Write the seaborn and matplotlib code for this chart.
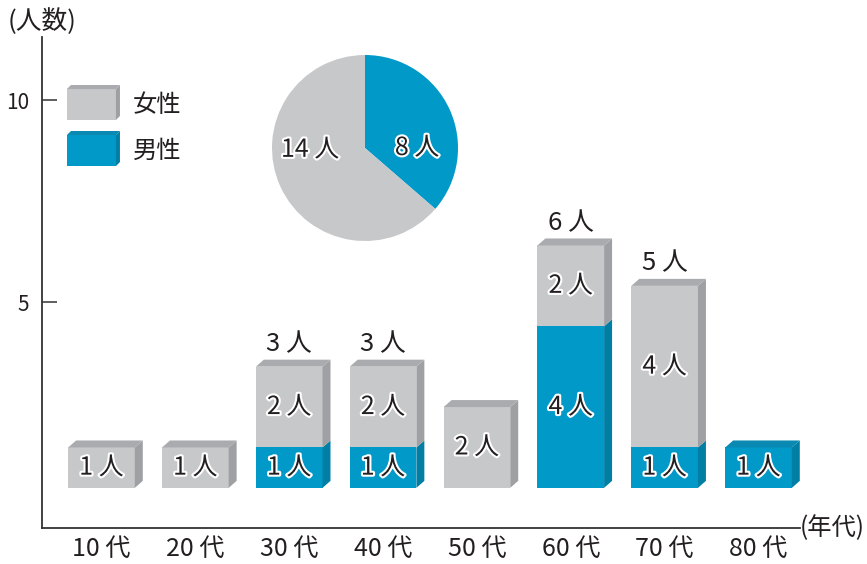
import matplotlib
matplotlib.use('Agg')
import matplotlib.pyplot as plt
import matplotlib.patheffects as pe
from matplotlib.patches import Polygon
import seaborn as sns

# data
ages = ['10 代', '20 代', '30 代', '40 代', '50 代', '60 代', '70 代', '80 代']
female = [1, 1, 2, 2, 2, 2, 4, 0]
male = [0, 0, 1, 1, 0, 4, 1, 1]
legend_names = ['女性', '男性']
unit = '人'

sns.set_theme(style='white')
plt.rcParams['font.family'] = ['Noto Sans CJK JP', 'DejaVu Sans']

GRAY, GRAY_TOP, GRAY_SIDE = '#c7c8ca', '#a9abae', '#9ea0a3'
BLUE, BLUE_TOP, BLUE_SIDE = '#0099c8', '#0a89b2', '#007ea4'
INK = '#231f20'

BASE = 0.4     # bars float a little above the axis line
W = 0.71
DX, DY = 0.085, 0.173

outline = [pe.withStroke(linewidth=3, foreground='white')]


def box3d(ax, x0, y0, w, h, cols, dx, dy, top=True):
    front, topc, side = cols
    ax.bar(x0, h, width=w, bottom=y0, align='edge', color=front, linewidth=0, zorder=2)
    ax.add_patch(Polygon([(x0 + w, y0), (x0 + w + dx, y0 + dy),
                          (x0 + w + dx, y0 + h + dy), (x0 + w, y0 + h)],
                         closed=True, facecolor=side, linewidth=0, zorder=2))
    if top:
        ax.add_patch(Polygon([(x0, y0 + h), (x0 + dx, y0 + h + dy),
                              (x0 + w + dx, y0 + h + dy), (x0 + w, y0 + h)],
                             closed=True, facecolor=topc, linewidth=0, zorder=2))


fig = plt.figure(figsize=(8.67, 5.64), dpi=100)
ax = fig.add_axes([0.0484, 0.0638, 0.8743, 0.8706])
ax.set_xlim(-0.634, 7.442)
ax.set_ylim(-0.594, 11.56)

for i in range(len(ages)):
    m, f = male[i], female[i]
    x0 = i - W / 2
    if m > 0:
        box3d(ax, x0, BASE, W, m, (BLUE, BLUE_TOP, BLUE_SIDE), DX, DY, top=(f == 0))
        ax.text(i, BASE + m / 2, f'{m} {unit}', ha='center', va='center',
                fontsize=18, color=INK, path_effects=outline, zorder=3)
    if f > 0:
        box3d(ax, x0, BASE + m, W, f, (GRAY, GRAY_TOP, GRAY_SIDE), DX, DY, top=True)
        ax.text(i, BASE + m + f / 2, f'{f} {unit}', ha='center', va='center',
                fontsize=18, color=INK, path_effects=outline, zorder=3)
    if m > 0 and f > 0:
        ax.annotate(f'{m + f} {unit}', (i, BASE + m + f), xytext=(0, 16),
                    textcoords='offset points', ha='center', va='center',
                    fontsize=18.5, color=INK)

# legend boxes
leg_cols = [(GRAY, GRAY_TOP, GRAY_SIDE), (BLUE, BLUE_TOP, BLUE_SIDE)]
leg_y = [9.505, 8.366]
for name, cols, ly in zip(legend_names, leg_cols, leg_y):
    box3d(ax, -0.368, ly, 0.522, 0.767, cols, 0.043, 0.1)
    ax.text(0.336, ly + 0.38, name, ha='left', va='center', fontsize=17.5, color=INK)

# axes styling
for s in ['top', 'right']:
    ax.spines[s].set_visible(False)
for s in ['left', 'bottom']:
    ax.spines[s].set_color('#333333')
    ax.spines[s].set_linewidth(1.3)
ax.set_yticks([5, 10])
ax.set_yticklabels(['5', '10'])
ax.tick_params(axis='y', direction='in', length=11, width=1.1, color='#333333',
               labelsize=15, pad=9, labelcolor=INK, left=True)
ax.set_xticks(range(len(ages)))
ax.set_xticklabels(ages)
ax.tick_params(axis='x', length=0, labelsize=18, pad=6, labelcolor=INK)
ax.grid(False)

fig.text(42 / 867, 1 - 22 / 564, '(人数)', ha='center', va='center', fontsize=18.5, color=INK)
fig.text(865 / 867, 36 / 564, '(年代)', ha='right', va='center',
         fontsize=17.5, color=INK)

# pie of totals
ax_pie = fig.add_axes([(365 - 93) / 867, (564 - 148 - 93) / 564, 186 / 867, 186 / 564])
tot_m, tot_f = sum(male), sum(female)
ax_pie.pie([tot_m, tot_f], colors=[BLUE, GRAY], startangle=90, counterclock=False,
           wedgeprops=dict(linewidth=0))
ax_pie.set_xlim(-1, 1)
ax_pie.set_ylim(-1, 1)
ax_pie.set_aspect('equal')
ax_pie.text(0.56, 0.0, f'{tot_m} {unit}', ha='center', va='center', fontsize=18,
            color=INK, path_effects=outline)
ax_pie.text(-0.59, -0.02, f'{tot_f} {unit}', ha='center', va='center', fontsize=18,
            color=INK, path_effects=outline)

fig.savefig('out.png', dpi=100)
